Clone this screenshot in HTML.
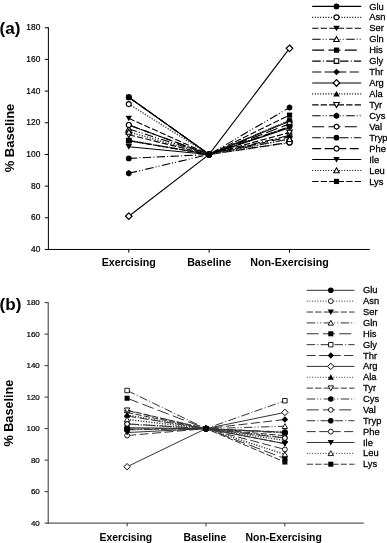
<!DOCTYPE html>
<html><head><meta charset="utf-8"><style>
html,body{margin:0;padding:0;background:#fff;width:387px;height:543px;overflow:hidden}
svg{display:block;filter:grayscale(1)}
text{font-family:"Liberation Sans",sans-serif;fill:#000}
.tk{font-size:8.4px;stroke:#000;stroke-width:0.2px}
.xl{font-size:10.7px;font-weight:bold}
.yl{font-size:13px;font-weight:bold}
.tag{font-size:16px;font-weight:bold}
.lg{font-size:8.6px;stroke:#000;stroke-width:0.25px}
</style></head><body>
<svg width="387" height="543" viewBox="0 0 387 543">
<rect width="387" height="543" fill="#fff"/>
<line x1="48.40" y1="27.25" x2="48.40" y2="249.96" stroke="#000" stroke-width="1.0"/>
<line x1="47.90" y1="249.46" x2="369.90" y2="249.46" stroke="#000" stroke-width="1.0"/>
<line x1="44.80" y1="27.75" x2="48.40" y2="27.75" stroke="#000" stroke-width="1.0"/>
<text x="40.30" y="30.45" text-anchor="end" class="tk" style="font-size:8.4px">180</text>
<line x1="44.80" y1="59.42" x2="48.40" y2="59.42" stroke="#000" stroke-width="1.0"/>
<text x="40.30" y="62.12" text-anchor="end" class="tk" style="font-size:8.4px">160</text>
<line x1="44.80" y1="91.10" x2="48.40" y2="91.10" stroke="#000" stroke-width="1.0"/>
<text x="40.30" y="93.80" text-anchor="end" class="tk" style="font-size:8.4px">140</text>
<line x1="44.80" y1="122.77" x2="48.40" y2="122.77" stroke="#000" stroke-width="1.0"/>
<text x="40.30" y="125.47" text-anchor="end" class="tk" style="font-size:8.4px">120</text>
<line x1="44.80" y1="154.44" x2="48.40" y2="154.44" stroke="#000" stroke-width="1.0"/>
<text x="40.30" y="157.14" text-anchor="end" class="tk" style="font-size:8.4px">100</text>
<line x1="44.80" y1="186.11" x2="48.40" y2="186.11" stroke="#000" stroke-width="1.0"/>
<text x="40.30" y="188.81" text-anchor="end" class="tk" style="font-size:8.4px">80</text>
<line x1="44.80" y1="217.79" x2="48.40" y2="217.79" stroke="#000" stroke-width="1.0"/>
<text x="40.30" y="220.49" text-anchor="end" class="tk" style="font-size:8.4px">60</text>
<line x1="44.80" y1="249.46" x2="48.40" y2="249.46" stroke="#000" stroke-width="1.0"/>
<text x="40.30" y="252.16" text-anchor="end" class="tk" style="font-size:8.4px">40</text>
<line x1="128.78" y1="249.46" x2="128.78" y2="252.66" stroke="#000" stroke-width="1.0"/>
<text x="128.78" y="265.86" text-anchor="middle" class="xl" style="font-size:10.7px">Exercising</text>
<line x1="209.15" y1="249.46" x2="209.15" y2="252.66" stroke="#000" stroke-width="1.0"/>
<text x="209.15" y="265.86" text-anchor="middle" class="xl" style="font-size:10.7px">Baseline</text>
<line x1="289.52" y1="249.46" x2="289.52" y2="252.66" stroke="#000" stroke-width="1.0"/>
<text x="289.52" y="265.86" text-anchor="middle" class="xl" style="font-size:10.7px">Non-Exercising</text>
<text transform="translate(14.00,138.00) rotate(-90)" text-anchor="middle" class="yl" style="font-size:13px">% Baseline</text>
<text transform="translate(-0.50,33.80) scale(1.07,1)" class="tag">(a)</text>
<polyline points="128.78,97.27 209.15,154.44 289.52,121.18" fill="none" stroke="#000" stroke-width="1.1"/>
<polyline points="128.78,104.08 209.15,154.44 289.52,142.72" fill="none" stroke="#444" stroke-width="1.5" stroke-dasharray="1.2 1.5"/>
<polyline points="128.78,118.33 209.15,154.44 289.52,127.04" fill="none" stroke="#000" stroke-width="1.1" stroke-dasharray="6.3 2.2"/>
<polyline points="128.78,128.94 209.15,154.44 289.52,138.92" fill="none" stroke="#000" stroke-width="1.1" stroke-dasharray="8.5 2 1 2 1 2.5"/>
<polyline points="128.78,97.27 209.15,154.44 289.52,120.87" fill="none" stroke="#000" stroke-width="1.1" stroke-dasharray="12 4.3"/>
<polyline points="128.78,140.66 209.15,154.44 289.52,135.44" fill="none" stroke="#000" stroke-width="1.1" stroke-dasharray="8.5 2.2 1 2.2"/>
<polyline points="128.78,97.27 209.15,154.44 289.52,136.86" fill="none" stroke="#000" stroke-width="1.1" stroke-dasharray="9 3.5"/>
<polyline points="128.78,216.20 209.15,154.44 289.52,48.34" fill="none" stroke="#000" stroke-width="1.1"/>
<polyline points="128.78,140.35 209.15,154.44 289.52,120.55" fill="none" stroke="#444" stroke-width="1.5" stroke-dasharray="1.2 1.5"/>
<polyline points="128.78,134.80 209.15,154.44 289.52,132.43" fill="none" stroke="#000" stroke-width="1.1" stroke-dasharray="6.3 2.2"/>
<polyline points="128.78,173.29 209.15,154.44 289.52,107.57" fill="none" stroke="#000" stroke-width="1.1" stroke-dasharray="8.5 2 1 2 1 2.5"/>
<polyline points="128.78,124.99 209.15,154.44 289.52,123.88" fill="none" stroke="#000" stroke-width="1.1" stroke-dasharray="12 4.3"/>
<polyline points="128.78,158.40 209.15,154.44 289.52,126.57" fill="none" stroke="#000" stroke-width="1.1" stroke-dasharray="8.5 2.2 1 2.2"/>
<polyline points="128.78,124.99 209.15,154.44 289.52,142.41" fill="none" stroke="#000" stroke-width="1.1" stroke-dasharray="9 3.5"/>
<polyline points="128.78,146.68 209.15,154.44 289.52,127.84" fill="none" stroke="#000" stroke-width="1.1"/>
<polyline points="128.78,131.95 209.15,154.44 289.52,139.24" fill="none" stroke="#444" stroke-width="1.5" stroke-dasharray="1.2 1.5"/>
<polyline points="128.78,140.66 209.15,154.44 289.52,115.17" fill="none" stroke="#000" stroke-width="1.1" stroke-dasharray="6.3 2.2"/>
<circle cx="128.78" cy="97.27" r="2.90" fill="#000"/>
<circle cx="289.52" cy="121.18" r="2.90" fill="#000"/>
<circle cx="128.78" cy="104.08" r="2.50" fill="#fff" stroke="#000" stroke-width="1.1"/>
<circle cx="289.52" cy="142.72" r="2.50" fill="#fff" stroke="#000" stroke-width="1.1"/>
<polygon points="125.58,115.73 131.97,115.73 128.78,121.33" fill="#000"/>
<polygon points="286.32,124.44 292.72,124.44 289.52,130.04" fill="#000"/>
<polygon points="125.98,131.24 131.58,131.24 128.78,126.24" fill="#fff" stroke="#000" stroke-width="1.1"/>
<polygon points="286.72,141.22 292.32,141.22 289.52,136.22" fill="#fff" stroke="#000" stroke-width="1.1"/>
<polygon points="126.18,94.67 131.38,94.67 131.38,99.87 126.18,99.87" fill="#000"/>
<polygon points="286.92,118.27 292.12,118.27 292.12,123.47 286.92,123.47" fill="#000"/>
<polygon points="126.48,138.36 131.08,138.36 131.08,142.96 126.48,142.96" fill="#fff" stroke="#000" stroke-width="1.1"/>
<polygon points="287.22,133.14 291.82,133.14 291.82,137.74 287.22,137.74" fill="#fff" stroke="#000" stroke-width="1.1"/>
<polygon points="128.78,93.97 132.08,97.27 128.78,100.57 125.48,97.27" fill="#000"/>
<polygon points="289.52,133.56 292.82,136.86 289.52,140.16 286.22,136.86" fill="#000"/>
<polygon points="128.78,212.90 132.08,216.20 128.78,219.50 125.48,216.20" fill="#fff" stroke="#000" stroke-width="1.21"/>
<polygon points="289.52,45.04 292.82,48.34 289.52,51.64 286.22,48.34" fill="#fff" stroke="#000" stroke-width="1.21"/>
<polygon points="125.58,142.95 131.97,142.95 128.78,137.35" fill="#000"/>
<polygon points="286.32,123.15 292.72,123.15 289.52,117.55" fill="#000"/>
<polygon points="125.98,132.50 131.58,132.50 128.78,137.50" fill="#fff" stroke="#000" stroke-width="1.1"/>
<polygon points="286.72,130.13 292.32,130.13 289.52,135.13" fill="#fff" stroke="#000" stroke-width="1.1"/>
<polygon points="128.78,176.49 126.00,174.89 126.00,171.69 128.78,170.09 131.55,171.69 131.55,174.89" fill="#000"/>
<polygon points="289.52,110.77 286.75,109.17 286.75,105.97 289.52,104.37 292.30,105.97 292.30,109.17" fill="#000"/>
<polygon points="128.78,127.59 126.52,126.29 126.52,123.69 128.78,122.39 131.03,123.69 131.03,126.29" fill="#fff" stroke="#000" stroke-width="1.1"/>
<polygon points="289.52,126.48 287.27,125.18 287.27,122.58 289.52,121.28 291.78,122.58 291.78,125.18" fill="#fff" stroke="#000" stroke-width="1.1"/>
<circle cx="128.78" cy="158.40" r="2.90" fill="#000"/>
<circle cx="289.52" cy="126.57" r="2.90" fill="#000"/>
<circle cx="128.78" cy="124.99" r="2.50" fill="#fff" stroke="#000" stroke-width="1.1"/>
<circle cx="289.52" cy="142.41" r="2.50" fill="#fff" stroke="#000" stroke-width="1.1"/>
<polygon points="125.58,144.08 131.97,144.08 128.78,149.68" fill="#000"/>
<polygon points="286.32,125.24 292.72,125.24 289.52,130.84" fill="#000"/>
<polygon points="125.98,134.25 131.58,134.25 128.78,129.25" fill="#fff" stroke="#000" stroke-width="1.1"/>
<polygon points="286.72,141.54 292.32,141.54 289.52,136.54" fill="#fff" stroke="#000" stroke-width="1.1"/>
<polygon points="126.18,138.06 131.38,138.06 131.38,143.26 126.18,143.26" fill="#000"/>
<polygon points="286.92,112.57 292.12,112.57 292.12,117.77 286.92,117.77" fill="#000"/>
<circle cx="209.15" cy="154.44" r="2.90" fill="#000"/>
<circle cx="209.15" cy="154.44" r="2.90" fill="#000"/>
<circle cx="209.15" cy="154.44" r="2.90" fill="#000"/>
<circle cx="209.15" cy="154.44" r="2.90" fill="#000"/>
<circle cx="209.15" cy="154.44" r="2.90" fill="#000"/>
<circle cx="209.15" cy="154.44" r="2.90" fill="#000"/>
<circle cx="209.15" cy="154.44" r="2.90" fill="#000"/>
<circle cx="209.15" cy="154.44" r="2.90" fill="#000"/>
<circle cx="209.15" cy="154.44" r="2.90" fill="#000"/>
<circle cx="209.15" cy="154.44" r="2.90" fill="#000"/>
<circle cx="209.15" cy="154.44" r="2.90" fill="#000"/>
<circle cx="209.15" cy="154.44" r="2.90" fill="#000"/>
<circle cx="209.15" cy="154.44" r="2.90" fill="#000"/>
<circle cx="209.15" cy="154.44" r="2.90" fill="#000"/>
<circle cx="209.15" cy="154.44" r="2.90" fill="#000"/>
<circle cx="209.15" cy="154.44" r="2.90" fill="#000"/>
<circle cx="209.15" cy="154.44" r="2.90" fill="#000"/>
<line x1="312.20" y1="6.40" x2="361.20" y2="6.40" stroke="#000" stroke-width="1.1"/>
<circle cx="336.50" cy="6.40" r="2.90" fill="#000"/>
<text transform="translate(369.20,9.50) scale(1.09,1)" class="lg">Glu</text>
<line x1="312.20" y1="17.34" x2="361.20" y2="17.34" stroke="#000" stroke-width="1.1" stroke-dasharray="1 1.67"/>
<circle cx="336.50" cy="17.34" r="2.50" fill="#fff" stroke="#000" stroke-width="1.1"/>
<text transform="translate(369.20,20.44) scale(1.09,1)" class="lg">Asn</text>
<line x1="312.20" y1="28.28" x2="361.20" y2="28.28" stroke="#000" stroke-width="1.1" stroke-dasharray="6.3 2.2"/>
<polygon points="333.30,25.68 339.70,25.68 336.50,31.28" fill="#000"/>
<text transform="translate(369.20,31.38) scale(1.09,1)" class="lg">Ser</text>
<line x1="312.20" y1="39.22" x2="361.20" y2="39.22" stroke="#000" stroke-width="1.1" stroke-dasharray="8.5 2 1 2 1 2.5"/>
<polygon points="333.70,41.52 339.30,41.52 336.50,36.52" fill="#fff" stroke="#000" stroke-width="1.1"/>
<text transform="translate(369.20,42.32) scale(1.09,1)" class="lg">Gln</text>
<line x1="312.20" y1="50.16" x2="361.20" y2="50.16" stroke="#000" stroke-width="1.1" stroke-dasharray="12 4.3"/>
<polygon points="333.90,47.56 339.10,47.56 339.10,52.76 333.90,52.76" fill="#000"/>
<text transform="translate(369.20,53.26) scale(1.09,1)" class="lg">His</text>
<line x1="312.20" y1="61.10" x2="361.20" y2="61.10" stroke="#000" stroke-width="1.1" stroke-dasharray="8.5 2.2 1 2.2"/>
<polygon points="334.20,58.80 338.80,58.80 338.80,63.40 334.20,63.40" fill="#fff" stroke="#000" stroke-width="1.1"/>
<text transform="translate(369.20,64.20) scale(1.09,1)" class="lg">Gly</text>
<line x1="312.20" y1="72.04" x2="361.20" y2="72.04" stroke="#000" stroke-width="1.1" stroke-dasharray="9 3.5"/>
<polygon points="336.50,68.74 339.80,72.04 336.50,75.34 333.20,72.04" fill="#000"/>
<text transform="translate(369.20,75.14) scale(1.09,1)" class="lg">Thr</text>
<line x1="312.20" y1="82.98" x2="361.20" y2="82.98" stroke="#000" stroke-width="1.1"/>
<polygon points="336.50,79.68 339.80,82.98 336.50,86.28 333.20,82.98" fill="#fff" stroke="#000" stroke-width="1.21"/>
<text transform="translate(369.20,86.08) scale(1.09,1)" class="lg">Arg</text>
<line x1="312.20" y1="93.92" x2="361.20" y2="93.92" stroke="#000" stroke-width="1.1" stroke-dasharray="1 1.67"/>
<polygon points="333.30,96.52 339.70,96.52 336.50,90.92" fill="#000"/>
<text transform="translate(369.20,97.02) scale(1.09,1)" class="lg">Ala</text>
<line x1="312.20" y1="104.86" x2="361.20" y2="104.86" stroke="#000" stroke-width="1.1" stroke-dasharray="6.3 2.2"/>
<polygon points="333.70,102.56 339.30,102.56 336.50,107.56" fill="#fff" stroke="#000" stroke-width="1.1"/>
<text transform="translate(369.20,107.96) scale(1.09,1)" class="lg">Tyr</text>
<line x1="312.20" y1="115.80" x2="361.20" y2="115.80" stroke="#000" stroke-width="1.1" stroke-dasharray="8.5 2 1 2 1 2.5"/>
<polygon points="336.50,119.00 333.73,117.40 333.73,114.20 336.50,112.60 339.27,114.20 339.27,117.40" fill="#000"/>
<text transform="translate(369.20,118.90) scale(1.09,1)" class="lg">Cys</text>
<line x1="312.20" y1="126.74" x2="361.20" y2="126.74" stroke="#000" stroke-width="1.1" stroke-dasharray="12 4.3"/>
<polygon points="336.50,129.34 334.25,128.04 334.25,125.44 336.50,124.14 338.75,125.44 338.75,128.04" fill="#fff" stroke="#000" stroke-width="1.1"/>
<text transform="translate(369.20,129.84) scale(1.09,1)" class="lg">Val</text>
<line x1="312.20" y1="137.68" x2="361.20" y2="137.68" stroke="#000" stroke-width="1.1" stroke-dasharray="8.5 2.2 1 2.2"/>
<circle cx="336.50" cy="137.68" r="2.90" fill="#000"/>
<text transform="translate(369.20,140.78) scale(1.09,1)" class="lg">Tryp</text>
<line x1="312.20" y1="148.62" x2="361.20" y2="148.62" stroke="#000" stroke-width="1.1" stroke-dasharray="9 3.5"/>
<circle cx="336.50" cy="148.62" r="2.50" fill="#fff" stroke="#000" stroke-width="1.1"/>
<text transform="translate(369.20,151.72) scale(1.09,1)" class="lg">Phe</text>
<line x1="312.20" y1="159.56" x2="361.20" y2="159.56" stroke="#000" stroke-width="1.1"/>
<polygon points="333.30,156.96 339.70,156.96 336.50,162.56" fill="#000"/>
<text transform="translate(369.20,162.66) scale(1.09,1)" class="lg">Ile</text>
<line x1="312.20" y1="170.50" x2="361.20" y2="170.50" stroke="#000" stroke-width="1.1" stroke-dasharray="1 1.67"/>
<polygon points="333.70,172.80 339.30,172.80 336.50,167.80" fill="#fff" stroke="#000" stroke-width="1.1"/>
<text transform="translate(369.20,173.60) scale(1.09,1)" class="lg">Leu</text>
<line x1="312.20" y1="181.44" x2="361.20" y2="181.44" stroke="#000" stroke-width="1.1" stroke-dasharray="6.3 2.2"/>
<polygon points="333.90,178.84 339.10,178.84 339.10,184.04 333.90,184.04" fill="#000"/>
<text transform="translate(369.20,184.54) scale(1.09,1)" class="lg">Lys</text>
<line x1="48.20" y1="302.15" x2="48.20" y2="523.60" stroke="#333" stroke-width="1.0"/>
<line x1="47.70" y1="523.10" x2="363.80" y2="523.10" stroke="#333" stroke-width="1.0"/>
<line x1="44.60" y1="302.65" x2="48.20" y2="302.65" stroke="#333" stroke-width="1.0"/>
<text x="39.80" y="305.15" text-anchor="end" class="tk" style="font-size:8.0px">180</text>
<line x1="44.60" y1="334.14" x2="48.20" y2="334.14" stroke="#333" stroke-width="1.0"/>
<text x="39.80" y="336.64" text-anchor="end" class="tk" style="font-size:8.0px">160</text>
<line x1="44.60" y1="365.64" x2="48.20" y2="365.64" stroke="#333" stroke-width="1.0"/>
<text x="39.80" y="368.14" text-anchor="end" class="tk" style="font-size:8.0px">140</text>
<line x1="44.60" y1="397.13" x2="48.20" y2="397.13" stroke="#333" stroke-width="1.0"/>
<text x="39.80" y="399.63" text-anchor="end" class="tk" style="font-size:8.0px">120</text>
<line x1="44.60" y1="428.62" x2="48.20" y2="428.62" stroke="#333" stroke-width="1.0"/>
<text x="39.80" y="431.12" text-anchor="end" class="tk" style="font-size:8.0px">100</text>
<line x1="44.60" y1="460.11" x2="48.20" y2="460.11" stroke="#333" stroke-width="1.0"/>
<text x="39.80" y="462.61" text-anchor="end" class="tk" style="font-size:8.0px">80</text>
<line x1="44.60" y1="491.61" x2="48.20" y2="491.61" stroke="#333" stroke-width="1.0"/>
<text x="39.80" y="494.11" text-anchor="end" class="tk" style="font-size:8.0px">60</text>
<line x1="44.60" y1="523.10" x2="48.20" y2="523.10" stroke="#333" stroke-width="1.0"/>
<text x="39.80" y="525.60" text-anchor="end" class="tk" style="font-size:8.0px">40</text>
<line x1="127.10" y1="523.10" x2="127.10" y2="526.30" stroke="#333" stroke-width="1.0"/>
<text x="125.90" y="541.30" text-anchor="middle" class="xl" style="font-size:10.4px">Exercising</text>
<line x1="206.00" y1="523.10" x2="206.00" y2="526.30" stroke="#333" stroke-width="1.0"/>
<text x="204.80" y="541.30" text-anchor="middle" class="xl" style="font-size:10.4px">Baseline</text>
<line x1="284.90" y1="523.10" x2="284.90" y2="526.30" stroke="#333" stroke-width="1.0"/>
<text x="283.70" y="541.30" text-anchor="middle" class="xl" style="font-size:10.4px">Non-Exercising</text>
<text transform="translate(13.40,413.10) rotate(-90)" text-anchor="middle" class="yl" style="font-size:12.7px">% Baseline</text>
<text transform="translate(-0.50,309.60) scale(1.07,1)" class="tag">(b)</text>
<polyline points="127.10,427.68 206.00,428.62 284.90,432.40" fill="none" stroke="#333" stroke-width="1.0"/>
<polyline points="127.10,424.05 206.00,428.62 284.90,437.75" fill="none" stroke="#444" stroke-width="1.5" stroke-dasharray="1.2 1.5"/>
<polyline points="127.10,412.56 206.00,428.62 284.90,443.58" fill="none" stroke="#333" stroke-width="1.0" stroke-dasharray="6.3 2.2"/>
<polyline points="127.10,410.51 206.00,428.62 284.90,426.26" fill="none" stroke="#333" stroke-width="1.0" stroke-dasharray="8.5 2 1 2 1 2.5"/>
<polyline points="127.10,398.23 206.00,428.62 284.90,458.54" fill="none" stroke="#333" stroke-width="1.0" stroke-dasharray="12 4.3"/>
<polyline points="127.10,390.52 206.00,428.62 284.90,400.75" fill="none" stroke="#333" stroke-width="1.0" stroke-dasharray="8.5 2.2 1 2.2"/>
<polyline points="127.10,416.02 206.00,428.62 284.90,419.49" fill="none" stroke="#333" stroke-width="1.0" stroke-dasharray="9 3.5"/>
<polyline points="127.10,466.73 206.00,428.62 284.90,412.40" fill="none" stroke="#333" stroke-width="1.0"/>
<polyline points="127.10,415.08 206.00,428.62 284.90,440.43" fill="none" stroke="#444" stroke-width="1.5" stroke-dasharray="1.2 1.5"/>
<polyline points="127.10,410.20 206.00,428.62 284.90,435.71" fill="none" stroke="#333" stroke-width="1.0" stroke-dasharray="6.3 2.2"/>
<polyline points="127.10,429.88 206.00,428.62 284.90,433.03" fill="none" stroke="#333" stroke-width="1.0" stroke-dasharray="8.5 2 1 2 1 2.5"/>
<polyline points="127.10,423.90 206.00,428.62 284.90,438.07" fill="none" stroke="#333" stroke-width="1.0" stroke-dasharray="12 4.3"/>
<polyline points="127.10,428.94 206.00,428.62 284.90,432.09" fill="none" stroke="#333" stroke-width="1.0" stroke-dasharray="8.5 2.2 1 2.2"/>
<polyline points="127.10,435.55 206.00,428.62 284.90,449.41" fill="none" stroke="#333" stroke-width="1.0" stroke-dasharray="9 3.5"/>
<polyline points="127.10,432.56 206.00,428.62 284.90,443.74" fill="none" stroke="#333" stroke-width="1.0"/>
<polyline points="127.10,419.49 206.00,428.62 284.90,454.45" fill="none" stroke="#444" stroke-width="1.5" stroke-dasharray="1.2 1.5"/>
<polyline points="127.10,429.25 206.00,428.62 284.90,462.00" fill="none" stroke="#333" stroke-width="1.0" stroke-dasharray="6.3 2.2"/>
<circle cx="127.10" cy="427.68" r="2.81" fill="#000"/>
<circle cx="284.90" cy="432.40" r="2.81" fill="#000"/>
<circle cx="127.10" cy="424.05" r="2.42" fill="#fff" stroke="#000" stroke-width="0.9"/>
<circle cx="284.90" cy="437.75" r="2.42" fill="#fff" stroke="#000" stroke-width="0.9"/>
<polygon points="124.00,410.04 130.20,410.04 127.10,415.47" fill="#000"/>
<polygon points="281.80,441.06 288.00,441.06 284.90,446.49" fill="#000"/>
<polygon points="124.38,412.74 129.82,412.74 127.10,407.89" fill="#fff" stroke="#000" stroke-width="0.9"/>
<polygon points="282.18,428.49 287.62,428.49 284.90,423.64" fill="#fff" stroke="#000" stroke-width="0.9"/>
<polygon points="124.58,395.71 129.62,395.71 129.62,400.75 124.58,400.75" fill="#000"/>
<polygon points="282.38,456.02 287.42,456.02 287.42,461.06 282.38,461.06" fill="#000"/>
<polygon points="124.87,388.28 129.33,388.28 129.33,392.75 124.87,392.75" fill="#fff" stroke="#000" stroke-width="0.9"/>
<polygon points="282.67,398.52 287.13,398.52 287.13,402.98 282.67,402.98" fill="#fff" stroke="#000" stroke-width="0.9"/>
<polygon points="127.10,412.82 130.30,416.02 127.10,419.23 123.90,416.02" fill="#000"/>
<polygon points="284.90,416.29 288.10,419.49 284.90,422.69 281.70,419.49" fill="#000"/>
<polygon points="127.10,463.53 130.30,466.73 127.10,469.93 123.90,466.73" fill="#fff" stroke="#000" stroke-width="0.99"/>
<polygon points="284.90,409.20 288.10,412.40 284.90,415.60 281.70,412.40" fill="#fff" stroke="#000" stroke-width="0.99"/>
<polygon points="124.00,417.60 130.20,417.60 127.10,412.17" fill="#000"/>
<polygon points="281.80,442.95 288.00,442.95 284.90,437.52" fill="#000"/>
<polygon points="124.38,407.97 129.82,407.97 127.10,412.82" fill="#fff" stroke="#000" stroke-width="0.9"/>
<polygon points="282.18,433.48 287.62,433.48 284.90,438.33" fill="#fff" stroke="#000" stroke-width="0.9"/>
<polygon points="127.10,432.99 124.41,431.43 124.41,428.33 127.10,426.78 129.79,428.33 129.79,431.43" fill="#000"/>
<polygon points="284.90,436.13 282.21,434.58 282.21,431.48 284.90,429.93 287.59,431.48 287.59,434.58" fill="#000"/>
<polygon points="127.10,426.42 124.92,425.16 124.92,422.64 127.10,421.38 129.28,422.64 129.28,425.16" fill="#fff" stroke="#000" stroke-width="0.9"/>
<polygon points="284.90,440.59 282.72,439.33 282.72,436.81 284.90,435.55 287.08,436.81 287.08,439.33" fill="#fff" stroke="#000" stroke-width="0.9"/>
<circle cx="127.10" cy="428.94" r="2.81" fill="#000"/>
<circle cx="284.90" cy="432.09" r="2.81" fill="#000"/>
<circle cx="127.10" cy="435.55" r="2.42" fill="#fff" stroke="#000" stroke-width="0.9"/>
<circle cx="284.90" cy="449.41" r="2.42" fill="#fff" stroke="#000" stroke-width="0.9"/>
<polygon points="124.00,430.04 130.20,430.04 127.10,435.47" fill="#000"/>
<polygon points="281.80,441.22 288.00,441.22 284.90,446.65" fill="#000"/>
<polygon points="124.38,421.72 129.82,421.72 127.10,416.87" fill="#fff" stroke="#000" stroke-width="0.9"/>
<polygon points="282.18,456.68 287.62,456.68 284.90,451.83" fill="#fff" stroke="#000" stroke-width="0.9"/>
<polygon points="124.58,426.73 129.62,426.73 129.62,431.77 124.58,431.77" fill="#000"/>
<polygon points="282.38,459.48 287.42,459.48 287.42,464.53 282.38,464.53" fill="#000"/>
<circle cx="206.00" cy="428.62" r="2.81" fill="#000"/>
<circle cx="206.00" cy="428.62" r="2.81" fill="#000"/>
<circle cx="206.00" cy="428.62" r="2.81" fill="#000"/>
<circle cx="206.00" cy="428.62" r="2.81" fill="#000"/>
<circle cx="206.00" cy="428.62" r="2.81" fill="#000"/>
<circle cx="206.00" cy="428.62" r="2.81" fill="#000"/>
<circle cx="206.00" cy="428.62" r="2.81" fill="#000"/>
<circle cx="206.00" cy="428.62" r="2.81" fill="#000"/>
<circle cx="206.00" cy="428.62" r="2.81" fill="#000"/>
<circle cx="206.00" cy="428.62" r="2.81" fill="#000"/>
<circle cx="206.00" cy="428.62" r="2.81" fill="#000"/>
<circle cx="206.00" cy="428.62" r="2.81" fill="#000"/>
<circle cx="206.00" cy="428.62" r="2.81" fill="#000"/>
<circle cx="206.00" cy="428.62" r="2.81" fill="#000"/>
<circle cx="206.00" cy="428.62" r="2.81" fill="#000"/>
<circle cx="206.00" cy="428.62" r="2.81" fill="#000"/>
<circle cx="206.00" cy="428.62" r="2.81" fill="#000"/>
<line x1="306.70" y1="290.30" x2="354.50" y2="290.30" stroke="#333" stroke-width="1.0"/>
<circle cx="330.80" cy="290.30" r="2.81" fill="#000"/>
<text transform="translate(363.00,293.40) scale(1.09,1)" class="lg">Glu</text>
<line x1="306.70" y1="301.17" x2="354.50" y2="301.17" stroke="#333" stroke-width="1.0" stroke-dasharray="1 1.67"/>
<circle cx="330.80" cy="301.17" r="2.42" fill="#fff" stroke="#000" stroke-width="0.9"/>
<text transform="translate(363.00,304.27) scale(1.09,1)" class="lg">Asn</text>
<line x1="306.70" y1="312.04" x2="354.50" y2="312.04" stroke="#333" stroke-width="1.0" stroke-dasharray="6.3 2.2"/>
<polygon points="327.70,309.52 333.90,309.52 330.80,314.95" fill="#000"/>
<text transform="translate(363.00,315.14) scale(1.09,1)" class="lg">Ser</text>
<line x1="306.70" y1="322.91" x2="354.50" y2="322.91" stroke="#333" stroke-width="1.0" stroke-dasharray="8.5 2 1 2 1 2.5"/>
<polygon points="328.08,325.14 333.52,325.14 330.80,320.29" fill="#fff" stroke="#000" stroke-width="0.9"/>
<text transform="translate(363.00,326.01) scale(1.09,1)" class="lg">Gln</text>
<line x1="306.70" y1="333.78" x2="354.50" y2="333.78" stroke="#333" stroke-width="1.0" stroke-dasharray="12 4.3"/>
<polygon points="328.28,331.26 333.32,331.26 333.32,336.30 328.28,336.30" fill="#000"/>
<text transform="translate(363.00,336.88) scale(1.09,1)" class="lg">His</text>
<line x1="306.70" y1="344.65" x2="354.50" y2="344.65" stroke="#333" stroke-width="1.0" stroke-dasharray="8.5 2.2 1 2.2"/>
<polygon points="328.57,342.42 333.03,342.42 333.03,346.88 328.57,346.88" fill="#fff" stroke="#000" stroke-width="0.9"/>
<text transform="translate(363.00,347.75) scale(1.09,1)" class="lg">Gly</text>
<line x1="306.70" y1="355.52" x2="354.50" y2="355.52" stroke="#333" stroke-width="1.0" stroke-dasharray="9 3.5"/>
<polygon points="330.80,352.32 334.00,355.52 330.80,358.72 327.60,355.52" fill="#000"/>
<text transform="translate(363.00,358.62) scale(1.09,1)" class="lg">Thr</text>
<line x1="306.70" y1="366.39" x2="354.50" y2="366.39" stroke="#333" stroke-width="1.0"/>
<polygon points="330.80,363.19 334.00,366.39 330.80,369.59 327.60,366.39" fill="#fff" stroke="#000" stroke-width="0.99"/>
<text transform="translate(363.00,369.49) scale(1.09,1)" class="lg">Arg</text>
<line x1="306.70" y1="377.26" x2="354.50" y2="377.26" stroke="#333" stroke-width="1.0" stroke-dasharray="1 1.67"/>
<polygon points="327.70,379.78 333.90,379.78 330.80,374.35" fill="#000"/>
<text transform="translate(363.00,380.36) scale(1.09,1)" class="lg">Ala</text>
<line x1="306.70" y1="388.13" x2="354.50" y2="388.13" stroke="#333" stroke-width="1.0" stroke-dasharray="6.3 2.2"/>
<polygon points="328.08,385.90 333.52,385.90 330.80,390.75" fill="#fff" stroke="#000" stroke-width="0.9"/>
<text transform="translate(363.00,391.23) scale(1.09,1)" class="lg">Tyr</text>
<line x1="306.70" y1="399.00" x2="354.50" y2="399.00" stroke="#333" stroke-width="1.0" stroke-dasharray="8.5 2 1 2 1 2.5"/>
<polygon points="330.80,402.10 328.11,400.55 328.11,397.45 330.80,395.90 333.49,397.45 333.49,400.55" fill="#000"/>
<text transform="translate(363.00,402.10) scale(1.09,1)" class="lg">Cys</text>
<line x1="306.70" y1="409.87" x2="354.50" y2="409.87" stroke="#333" stroke-width="1.0" stroke-dasharray="12 4.3"/>
<polygon points="330.80,412.39 328.62,411.13 328.62,408.61 330.80,407.35 332.98,408.61 332.98,411.13" fill="#fff" stroke="#000" stroke-width="0.9"/>
<text transform="translate(363.00,412.97) scale(1.09,1)" class="lg">Val</text>
<line x1="306.70" y1="420.74" x2="354.50" y2="420.74" stroke="#333" stroke-width="1.0" stroke-dasharray="8.5 2.2 1 2.2"/>
<circle cx="330.80" cy="420.74" r="2.81" fill="#000"/>
<text transform="translate(363.00,423.84) scale(1.09,1)" class="lg">Tryp</text>
<line x1="306.70" y1="431.61" x2="354.50" y2="431.61" stroke="#333" stroke-width="1.0" stroke-dasharray="9 3.5"/>
<circle cx="330.80" cy="431.61" r="2.42" fill="#fff" stroke="#000" stroke-width="0.9"/>
<text transform="translate(363.00,434.71) scale(1.09,1)" class="lg">Phe</text>
<line x1="306.70" y1="442.48" x2="354.50" y2="442.48" stroke="#333" stroke-width="1.0"/>
<polygon points="327.70,439.96 333.90,439.96 330.80,445.39" fill="#000"/>
<text transform="translate(363.00,445.58) scale(1.09,1)" class="lg">Ile</text>
<line x1="306.70" y1="453.35" x2="354.50" y2="453.35" stroke="#333" stroke-width="1.0" stroke-dasharray="1 1.67"/>
<polygon points="328.08,455.58 333.52,455.58 330.80,450.73" fill="#fff" stroke="#000" stroke-width="0.9"/>
<text transform="translate(363.00,456.45) scale(1.09,1)" class="lg">Leu</text>
<line x1="306.70" y1="464.22" x2="354.50" y2="464.22" stroke="#333" stroke-width="1.0" stroke-dasharray="6.3 2.2"/>
<polygon points="328.28,461.70 333.32,461.70 333.32,466.74 328.28,466.74" fill="#000"/>
<text transform="translate(363.00,467.32) scale(1.09,1)" class="lg">Lys</text>
</svg>
</body></html>
